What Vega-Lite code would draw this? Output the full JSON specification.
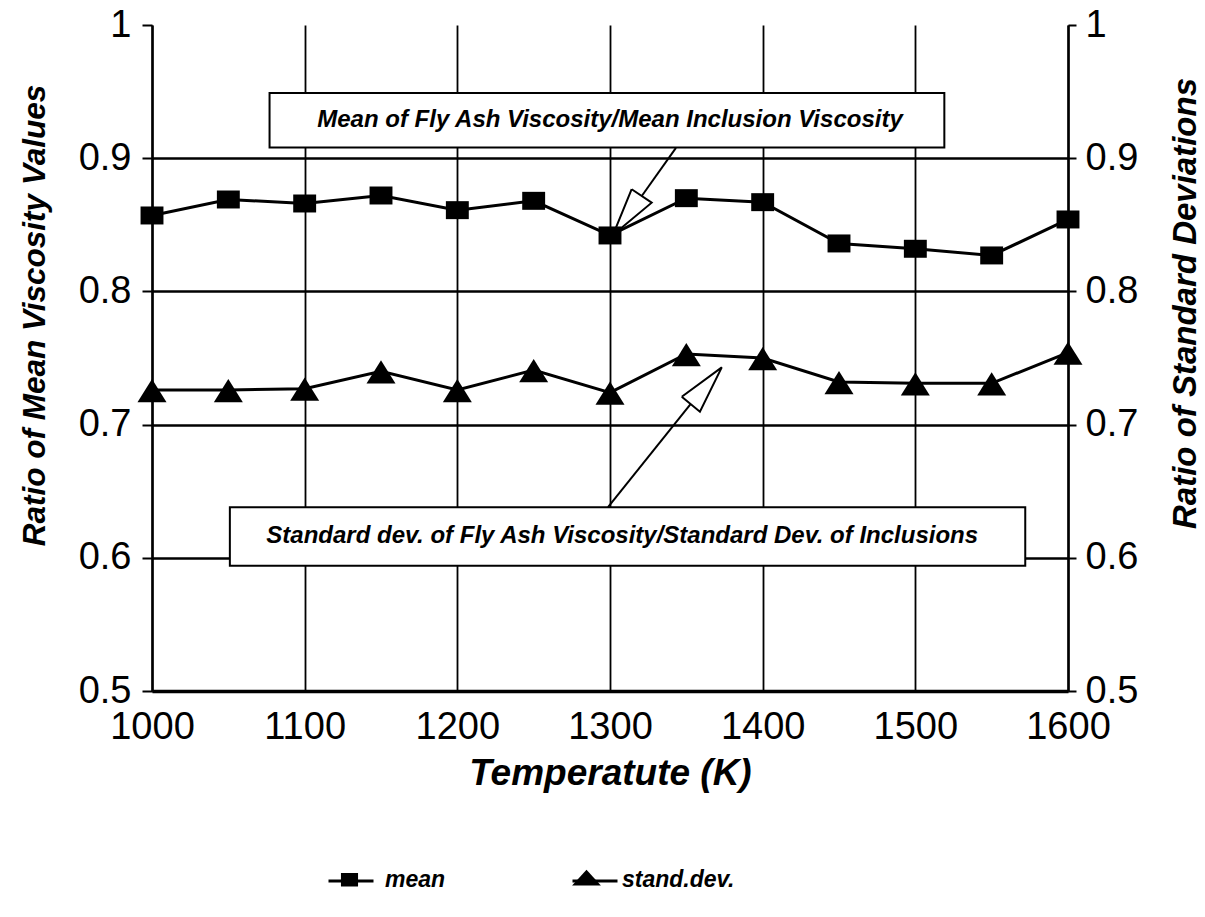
{
  "$schema": "https://vega.github.io/schema/vega-lite/v6.json",
  "width": 916,
  "height": 666,
  "autosize": {"type": "none"},
  "padding": {"left": 152, "top": 25, "right": 137, "bottom": 226},
  "background": "white",
  "config": {
    "font": "Liberation Sans",
    "view": {"stroke": null},
    "axis": {
      "domainColor": "black",
      "tickColor": "black",
      "gridColor": "black",
      "labelColor": "black",
      "titleColor": "black",
      "labelFont": "Liberation Sans",
      "titleFont": "Liberation Sans",
      "labelFontSize": 38,
      "titleFontStyle": "italic",
      "titleFontWeight": "bold"
    },
    "legend": {
      "title": null,
      "orient": "none",
      "legendX": 175,
      "legendY": 832,
      "direction": "horizontal",
      "padding": 0,
      "labelFont": "Liberation Sans",
      "labelFontSize": 23,
      "labelFontStyle": "italic",
      "labelFontWeight": "bold",
      "labelColor": "black",
      "labelOffset": 13,
      "columnPadding": 118,
      "symbolSize": 2025
    }
  },
  "datasets": {
    "series": [
      {"T": 1000, "series": "mean", "v": 0.857},
      {"T": 1050, "series": "mean", "v": 0.869},
      {"T": 1100, "series": "mean", "v": 0.866},
      {"T": 1150, "series": "mean", "v": 0.872},
      {"T": 1200, "series": "mean", "v": 0.861},
      {"T": 1250, "series": "mean", "v": 0.868},
      {"T": 1300, "series": "mean", "v": 0.842},
      {"T": 1350, "series": "mean", "v": 0.870},
      {"T": 1400, "series": "mean", "v": 0.867},
      {"T": 1450, "series": "mean", "v": 0.836},
      {"T": 1500, "series": "mean", "v": 0.832},
      {"T": 1550, "series": "mean", "v": 0.827},
      {"T": 1600, "series": "mean", "v": 0.854},
      {"T": 1000, "series": "stand.dev.", "v": 0.726},
      {"T": 1050, "series": "stand.dev.", "v": 0.726},
      {"T": 1100, "series": "stand.dev.", "v": 0.727},
      {"T": 1150, "series": "stand.dev.", "v": 0.740},
      {"T": 1200, "series": "stand.dev.", "v": 0.726},
      {"T": 1250, "series": "stand.dev.", "v": 0.741},
      {"T": 1300, "series": "stand.dev.", "v": 0.724},
      {"T": 1350, "series": "stand.dev.", "v": 0.753},
      {"T": 1400, "series": "stand.dev.", "v": 0.750},
      {"T": 1450, "series": "stand.dev.", "v": 0.732},
      {"T": 1500, "series": "stand.dev.", "v": 0.731},
      {"T": 1550, "series": "stand.dev.", "v": 0.731},
      {"T": 1600, "series": "stand.dev.", "v": 0.754}
    ],
    "boxes": [
      {"x1": 1077, "x2": 1519, "y1": 0.908, "y2": 0.949},
      {"x1": 1051, "x2": 1572, "y1": 0.594, "y2": 0.638}
    ],
    "notes": [
      {"x": 1300, "y": 0.929, "label": "Mean of Fly Ash Viscosity/Mean Inclusion Viscosity"},
      {"x": 1308, "y": 0.616, "label": "Standard dev. of Fly Ash Viscosity/Standard Dev. of Inclusions"}
    ],
    "arrows": [
      {"seg": "a1s", "o": 1, "x": 1343.2, "y": 0.9077},
      {"seg": "a1s", "o": 2, "x": 1320.8, "y": 0.8716},
      {"seg": "a1h", "o": 1, "x": 1314.2, "y": 0.8767},
      {"seg": "a1h", "o": 2, "x": 1301.9, "y": 0.8423},
      {"seg": "a1h", "o": 3, "x": 1327.3, "y": 0.8666},
      {"seg": "a1h", "o": 4, "x": 1314.2, "y": 0.8767},
      {"seg": "a2s", "o": 1, "x": 1298.7, "y": 0.638},
      {"seg": "a2s", "o": 2, "x": 1352.9, "y": 0.7155},
      {"seg": "a2h", "o": 1, "x": 1347.0, "y": 0.7209},
      {"seg": "a2h", "o": 2, "x": 1373.2, "y": 0.743},
      {"seg": "a2h", "o": 3, "x": 1358.9, "y": 0.7097},
      {"seg": "a2h", "o": 4, "x": 1347.0, "y": 0.7209}
    ]
  },
  "layer": [
    {
      "data": {"name": "series"},
      "mark": {"type": "line", "strokeWidth": 3},
      "encoding": {
        "x": {
          "field": "T", "type": "quantitative",
          "scale": {"domain": [1000, 1600], "nice": false, "zero": false},
          "title": "Temperatute (K)",
          "axis": {
            "values": [1000, 1100, 1200, 1300, 1400, 1500, 1600],
            "format": "d",
            "grid": true,
            "gridWidth": 1.8,
            "ticks": false,
            "domainWidth": 3.5,
            "labelPadding": 17,
            "labelFlush": false,
            "labelOverlap": false,
            "labelBound": false,
            "labelFontSize": 38,
            "titleFontSize": 37,
            "titleBaseline": "alphabetic",
            "titleY": 93
          }
        },
        "y": {
          "field": "v", "type": "quantitative",
          "scale": {"domain": [0.5, 1], "nice": false, "zero": false},
          "axis": {
            "orient": "left",
            "values": [0.5, 0.6, 0.7, 0.8, 0.9, 1],
            "labelExpr": "datum.value >= 0.99 ? '1' : format(datum.value, '.1f')",
            "labelFlush": false,
            "labelOverlap": false,
            "grid": true,
            "gridWidth": 2.5,
            "gridOpacity": {"condition": {"test": "datum.value >= 0.99", "value": 0}, "value": 1},
            "tickSize": 10,
            "tickWidth": 2,
            "domainWidth": 2.5,
            "labelPadding": 11,
            "title": "Ratio of Mean Viscosity Values",
            "titleFontSize": 31.5,
            "titleAngle": 270,
            "titleX": -108,
            "titleY": 290,
            "titleAlign": "center",
            "titleBaseline": "alphabetic"
          }
        },
        "stroke": {
          "field": "series", "type": "nominal",
          "scale": {"domain": ["mean", "stand.dev."], "range": ["black", "black"]},
          "legend": {
            "symbolType": "stroke",
            "symbolStrokeWidth": 3,
            "symbolStrokeColor": "black",
            "symbolOpacity": 1,
            "labelExpr": "''",
            "columnPadding": 178
          }
        }
      }
    },
    {
      "data": {"name": "boxes"},
      "mark": {"type": "rect", "fill": "white", "stroke": "black", "strokeWidth": 2},
      "encoding": {
        "x": {"field": "x1", "type": "quantitative", "title": "Temperatute (K)"},
        "x2": {"field": "x2"},
        "y": {"field": "y1", "type": "quantitative", "axis": null},
        "y2": {"field": "y2"}
      }
    },
    {
      "data": {"name": "notes"},
      "mark": {"type": "text", "font": "Liberation Sans", "fontSize": 24, "fontStyle": "italic", "fontWeight": "bold", "color": "black", "align": "center", "baseline": "middle"},
      "encoding": {
        "x": {"field": "x", "type": "quantitative", "title": "Temperatute (K)"},
        "y": {"field": "y", "type": "quantitative", "axis": null},
        "text": {"field": "label"}
      }
    },
    {
      "data": {"name": "arrows"},
      "mark": {"type": "line", "color": "black", "strokeWidth": 2},
      "encoding": {
        "x": {"field": "x", "type": "quantitative", "title": "Temperatute (K)"},
        "y": {"field": "y", "type": "quantitative", "axis": null},
        "detail": {"field": "seg", "type": "nominal"},
        "order": {"field": "o", "type": "quantitative"}
      }
    },
    {
      "data": {"name": "series"},
      "mark": {"type": "point", "filled": true, "color": "black", "size": 841, "opacity": 1},
      "encoding": {
        "x": {"field": "T", "type": "quantitative", "title": "Temperatute (K)"},
        "y": {"field": "v", "type": "quantitative", "axis": null},
        "shape": {
          "field": "series", "type": "nominal",
          "scale": {"domain": ["mean", "stand.dev."], "range": ["M-0.79,-0.62H0.79V0.62H-0.79Z", "M0,-0.76L1,0.84H-1Z"]},
          "legend": null
        }
      }
    },
    {
      "data": {"name": "series"},
      "mark": {"type": "point", "filled": true, "color": "black", "size": 10, "opacity": 0},
      "encoding": {
        "x": {"field": "T", "type": "quantitative", "title": "Temperatute (K)"},
        "y": {
          "field": "v", "type": "quantitative",
          "axis": {
            "orient": "right",
            "values": [0.5, 0.6, 0.7, 0.8, 0.9, 1],
            "labelExpr": "datum.value >= 0.99 ? '1' : format(datum.value, '.1f')",
            "labelFlush": false,
            "labelOverlap": false,
            "grid": false,
            "tickSize": 8,
            "tickWidth": 2,
            "domainWidth": 2.5,
            "labelPadding": 9,
            "title": "Ratio of Standard Deviations",
            "titleFontSize": 33,
            "titleAngle": 270,
            "titleX": 127,
            "titleY": 278,
            "titleAlign": "center",
            "titleBaseline": "alphabetic"
          }
        },
        "shape": {
          "field": "series", "type": "nominal",
          "scale": {"domain": ["mean", "stand.dev."], "range": ["M-0.38,-0.3H0.38V0.3H-0.38Z", "M0,-0.44L0.64,0.26H-0.64Z"]},
          "legend": {
            "symbolOpacity": 1,
            "symbolFillColor": "black",
            "symbolStrokeWidth": 0
          }
        }
      }
    }
  ],
  "resolve": {"axis": {"y": "independent"}, "scale": {"shape": "independent"}, "legend": {"shape": "independent", "stroke": "independent"}}
}
